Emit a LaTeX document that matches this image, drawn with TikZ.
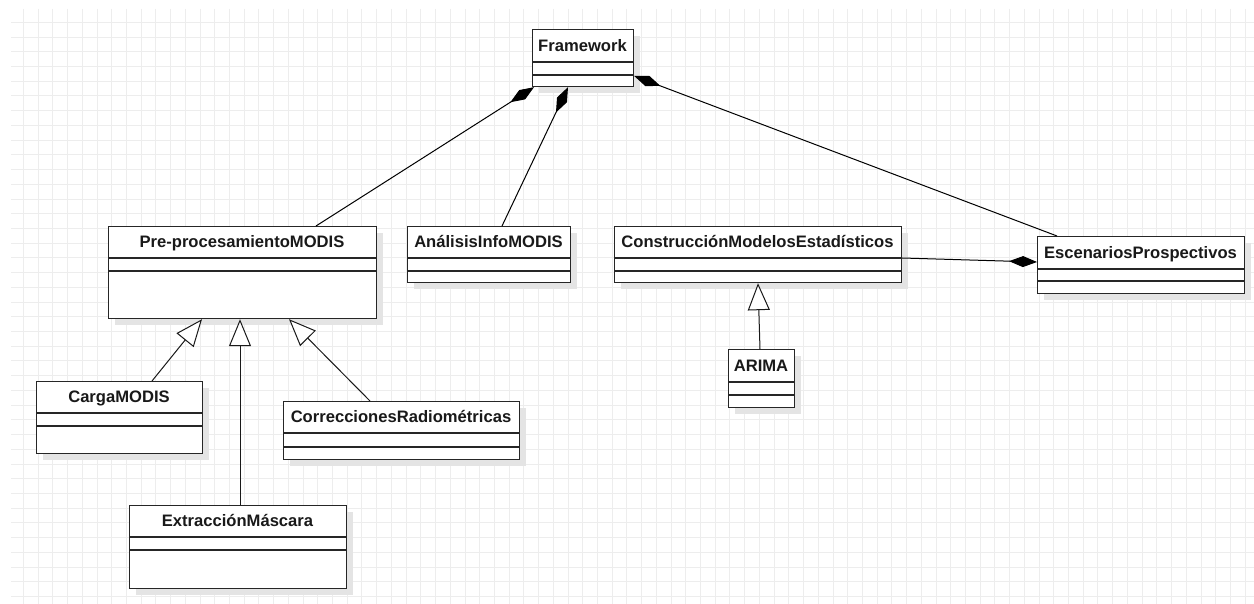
\documentclass[tikz,border=0pt]{standalone}
\usepackage{fontspec}
\setmainfont{Liberation Sans}
\usetikzlibrary{arrows.meta,calc}
\definecolor{gridc}{HTML}{EDEDED}
\definecolor{shadc}{HTML}{E4E4E4}
\tikzset{
  gridline/.style={draw=gridc, line width=0.8pt},
  clsbox/.style={draw=black!85, fill=white, line width=1.2pt, rectangle, inner sep=0pt, anchor=north west},
  clsline/.style={draw=black!85, line width=1.2pt},
  clstitle/.style={anchor=base, inner sep=0pt, font=\fontsize{16.6}{19}\selectfont\bfseries, text=black!90},
  shade/.style={fill=shadc},
  comp/.style={draw=black, line width=1pt, -{Diamond[length=28pt,width=11pt,fill=black]}},
  gen/.style={draw=black!90, line width=1pt, -{Triangle[open,length=27pt,width=22pt,fill=white,line width=1pt]}},
}
\newcommand{\umlbox}[8]{%
  \fill[shade] (#2+7,#3+7) rectangle (#4+7,#5+7);
  \node[clsbox, minimum width=#4-#2, minimum height=#5-#3] (#1) at (#2,#3) {};
  \draw[clsline] (#2,#6) -- (#4,#6);
  \draw[clsline] (#2,#7) -- (#4,#7);
  \node[clstitle] (#1-t) at ({(#2+#4)/2},{(#3+#6)/2+5.9}) {#8};
}
\begin{document}
\begin{tikzpicture}[x=1pt,y=-1pt]
\useasboundingbox (0,0) rectangle (1254,604);
\fill[white] (0,0) rectangle (1254,604);
% grid
\foreach \i in {0,...,83} { \draw[gridline] ({23.3+\i*14.72},9) -- ({23.3+\i*14.72},604); }
\foreach \j in {0,...,39} { \draw[gridline] (11,{22.3+\j*14.72}) -- (1254,{22.3+\j*14.72}); }
% classes
\umlbox{fw}{532}{29}{633}{86}{62}{75}{Framework}
\umlbox{pre}{108}{226}{376}{318}{258}{271}{Pre-procesamientoMODIS}
\umlbox{ana}{407}{226}{570}{282}{258}{271}{AnálisisInfoMODIS}
\umlbox{cons}{614}{226}{901}{282}{258}{271}{ConstrucciónModelosEstadísticos}
\umlbox{esc}{1037}{236}{1244}{293}{269}{281}{EscenariosProspectivos}
\umlbox{arima}{728}{349}{794}{407}{382}{395}{ARIMA}
\umlbox{carga}{36}{381}{202}{453}{413}{426}{CargaMODIS}
\umlbox{corr}{283}{401}{519}{459}{433}{447}{CorreccionesRadiométricas}
\umlbox{ext}{129}{505}{346}{588}{537}{550}{ExtracciónMáscara}
% compositions
\draw[comp] ($(pre.north west)+(208,0)$) -- ($(fw.south west)+(2,0)$);
\draw[comp] ($(ana.north west)+(95,0)$) -- ($(fw.south west)+(36,0)$);
\draw[comp] ($(esc.north west)+(20,0)$) -- ($(fw.north east)+(0,47)$);
\draw[comp] ($(cons.north east)+(0,32)$) -- ($(esc.north west)+(0,26)$);
% generalizations
\draw[gen] ($(carga.north west)+(116,0)$) -- ($(pre.south west)+(94,0)$);
\draw[gen] ($(ext.north west)+(111,0)$) -- ($(pre.south west)+(132,0)$);
\draw[gen] ($(corr.north west)+(87,0)$) -- ($(pre.south west)+(181,0)$);
\draw[gen] ($(arima.north west)+(32,0)$) -- ($(cons.south west)+(144,0)$);
\end{tikzpicture}
\end{document}
